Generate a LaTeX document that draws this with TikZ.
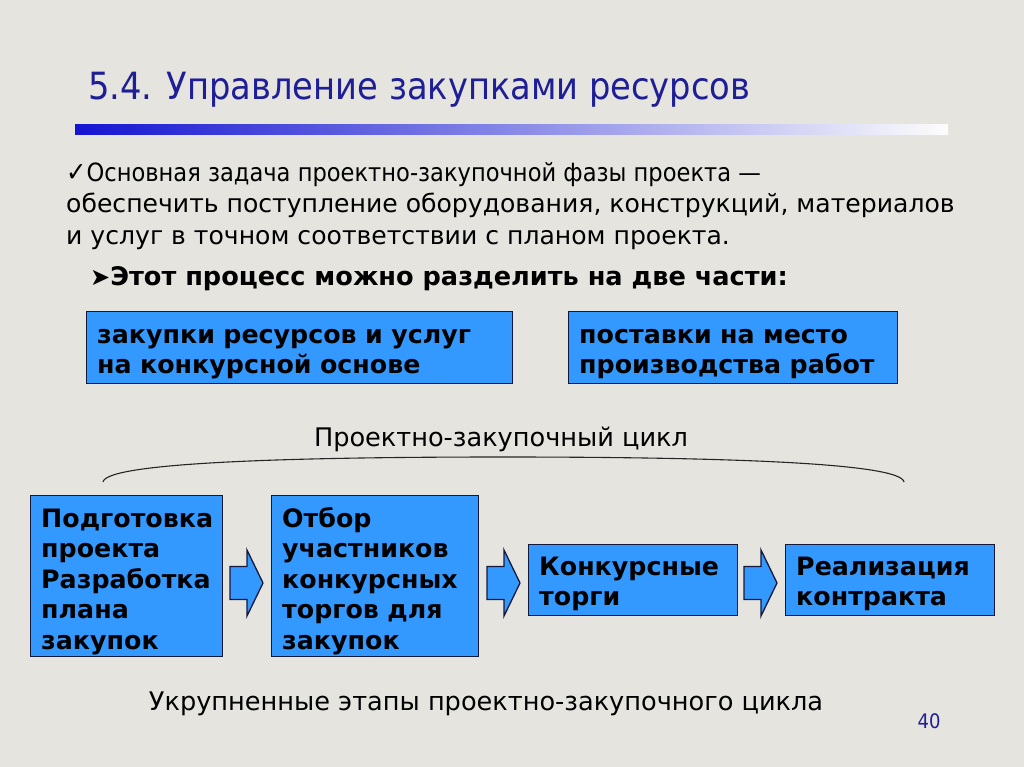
\documentclass[tikz,border=0pt]{standalone}
\usepackage{fontspec}
\setmainfont{DejaVu Sans}
\newfontfamily\condfont{DejaVu Sans Condensed}
\newfontfamily\boxfont{DejaVu Sans}
\usetikzlibrary{calc}
\definecolor{bg}{RGB}{230,228,222}
\definecolor{boxblue}{RGB}{51,153,255}
\definecolor{boxline}{RGB}{20,25,60}
\definecolor{titleblue}{RGB}{30,30,150}
\definecolor{barblue}{RGB}{20,20,210}
\tikzset{
  bluebox/.style={draw=boxline, line width=1.3pt, fill=boxblue, anchor=north west, inner sep=0pt},
  boxtext/.style={anchor=base west, inner sep=0pt, align=left, text width=#1,
    font=\boxfont\bfseries\fontsize{25.3}{30.5}\selectfont},
  blockarrow/.style={draw=boxline, line width=1.3pt, fill=boxblue, line join=miter},
  bodytext/.style={anchor=base west, inner sep=0pt, font=\fontsize{25.1}{30}\selectfont},
}
\newcommand{\blockarr}[1]{%
  \draw[blockarrow] (#1) ++(0,-16.5) -- ++(17,0) -- ++(0,-16.5) -- ++(16,33)
    -- ++(-16,33) -- ++(0,-16.5) -- ++(-17,0) -- cycle;}
\begin{document}
\begin{tikzpicture}[x=1pt,y=-1pt]
\fill[bg] (0,0) rectangle (1024,767);
\useasboundingbox (0,0) rectangle (1024,767);
% title
\node[anchor=base west, inner sep=0pt, text=titleblue, font=\condfont\fontsize{37.5}{44}\selectfont] (title) at (88,100) {5.4. Управление закупками ресурсов};
\shade[left color=barblue, right color=white!92!bg] (75,125) rectangle (948,135);
% body text
\node[bodytext] (l1) at (66,182) {\scalebox{0.9}[1]{{\fontsize{27}{27}\selectfont ✓}Основная задача проектно-закупочной фазы проекта —}};
\node[bodytext] (l2) at (66,213) {обеспечить поступление оборудования, конструкций, материалов};
\node[bodytext] (l3) at (66,244) {и услуг в точном соответствии с планом проекта.};
\node[bodytext, font=\bfseries\fontsize{25.6}{30}\selectfont] (l4) at (90,285) {{\mdseries\fontsize{24}{24}\selectfont ➤}Этот процесс можно разделить на две части:};
% two parts
\node[bluebox, minimum width=426pt, minimum height=72pt] (p1) at (86,311) {};
\node[boxtext=404pt] (p1t) at ($(p1.north west)+(11,32)$) {закупки ресурсов и услуг\\на конкурсной основе};
\node[bluebox, minimum width=329pt, minimum height=72pt] (p2) at (568,311) {};
\node[boxtext=307pt] (p2t) at ($(p2.north west)+(11,32)$) {поставки на место\\производства работ};
% cycle
\node[anchor=base, inner sep=0pt, font=\fontsize{25.6}{30}\selectfont] (cyc) at (501,446) {Проектно-закупочный цикл};
\coordinate (bl) at (103,482);
\coordinate (bt) at (503,457);
\coordinate (br) at (904,482);
\draw[line width=1.1pt, black!85] (bl) .. controls (106,462) and (300,457) .. (bt) .. controls (706,457) and (901,462) .. (br);
% stages
\node[bluebox, minimum width=192pt, minimum height=161pt] (b1) at (30,495) {};
\node[boxtext=170pt] (b1t) at ($(b1.north west)+(11,32)$) {Подготовка\\проекта\\Разработка\\плана\\закупок};
\node[bluebox, minimum width=207pt, minimum height=161pt] (b2) at (271,495) {};
\node[boxtext=185pt] (b2t) at ($(b2.north west)+(11,32)$) {Отбор\\участников\\конкурсных\\торгов для\\закупок};
\node[bluebox, minimum width=209pt, minimum height=71pt] (b3) at (528,544) {};
\node[boxtext=187pt] (b3t) at ($(b3.north west)+(11,31)$) {Конкурсные\\торги};
\node[bluebox, minimum width=209pt, minimum height=71pt] (b4) at (785,544) {};
\node[boxtext=187pt] (b4t) at ($(b4.north west)+(11,31)$) {Реализация\\контракта};
\coordinate (a1) at (230,583);
\coordinate (a2) at (487,583);
\coordinate (a3) at (744,583);
\blockarr{a1}
\blockarr{a2}
\blockarr{a3}
% caption
\node[anchor=base, inner sep=0pt, font=\fontsize{25.6}{30}\selectfont] (cap) at (486,710) {Укрупненные этапы проектно-закупочного цикла};
\node[anchor=base, inner sep=0pt, text=titleblue, font=\condfont\fontsize{20}{22}\selectfont] (pg) at (929,728) {40};
\end{tikzpicture}
\end{document}
